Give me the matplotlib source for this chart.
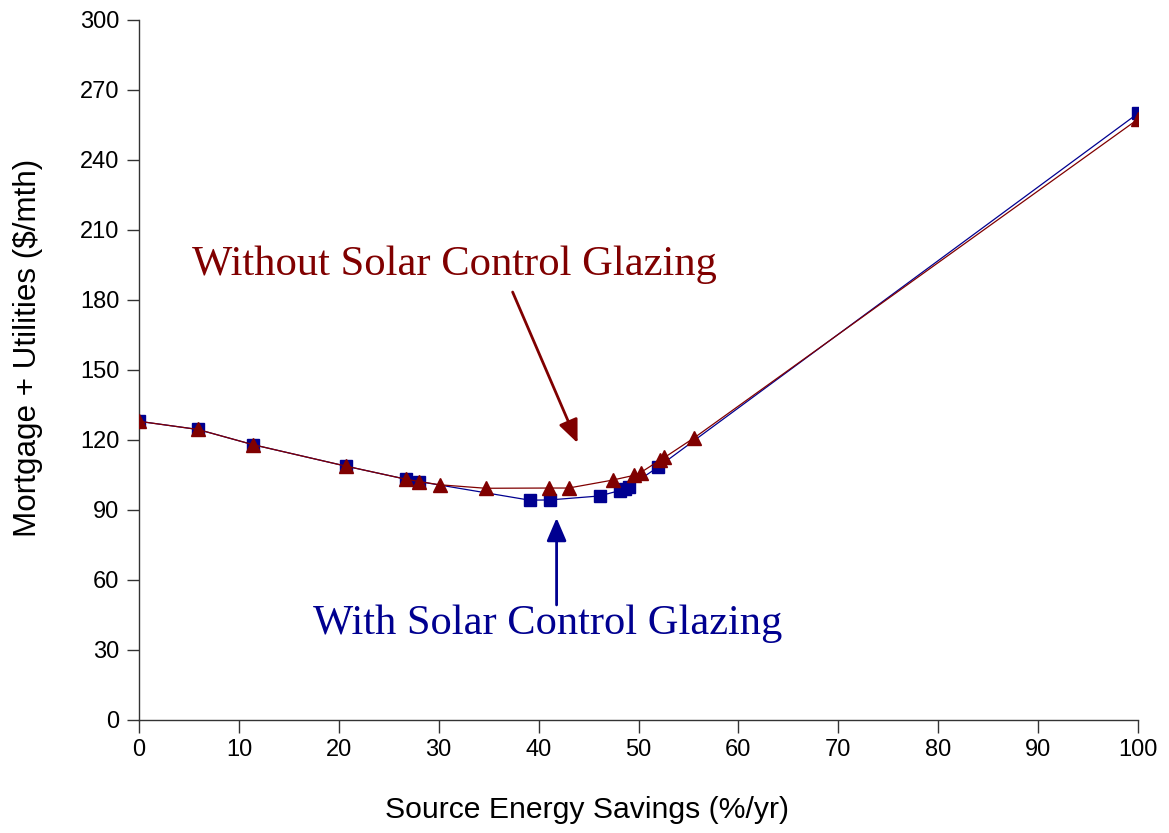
import matplotlib
matplotlib.use("Agg")
import matplotlib.pyplot as plt

# savings (%/yr) vs mortgage + utilities ($/mth)
x_with = [0, 5.9, 11.4, 20.7, 26.7, 28.0, 39.1, 41.1, 46.1, 48.1, 48.6, 49.0, 52.0, 100]
y_with = [128, 124.5, 118, 108.8, 103.2, 102.2, 94.2, 94.3, 96.0, 98.3, 99.0, 99.8, 108.5, 260]

x_without = [0, 5.9, 11.4, 20.7, 26.7, 28.0, 30.1, 34.7, 41.0, 43.0, 47.4,
             49.5, 50.2, 52.2, 52.6, 55.6, 100]
y_without = [128, 124.5, 118, 108.8, 103.2, 102.2, 100.8, 99.3, 99.4, 99.4, 102.8,
             104.8, 106.0, 111.5, 112.5, 121, 257.5]

x_ticks = list(range(0, 101, 10))
y_ticks = list(range(0, 301, 30))

BLUE = "#000090"
RED = "#800000"

plt.rcParams['font.family'] = ['Liberation Sans', 'DejaVu Sans']

fig = plt.figure(figsize=(11.69, 8.33), dpi=100)
ax = fig.add_axes([0.1189, 0.1357, 0.8546, 0.8403])

ax.plot(x_with, y_with, color=BLUE, lw=0.9, marker='s', ms=8.5,
        mfc=BLUE, mec=BLUE, zorder=3)
ax.plot(x_without, y_without, color=RED, lw=0.9, marker='^', ms=9.5,
        mfc=RED, mec=RED, zorder=4)

ax.set_xlim(0, 100)
ax.set_ylim(0, 300)
ax.set_xticks(x_ticks)
ax.set_yticks(y_ticks)
ax.tick_params(axis='both', direction='out', length=9, width=1,
               labelsize=17, color='#333333', pad=5)
for side in ['top', 'right']:
    ax.spines[side].set_visible(False)
for side in ['left', 'bottom']:
    ax.spines[side].set_color('#333333')
    ax.spines[side].set_linewidth(1)

ax.set_xlabel("Source Energy Savings (%/yr)", fontsize=21.7)
ax.xaxis.set_label_coords(0.448, -0.108)
ax.set_ylabel("Mortgage + Utilities ($/mth)", fontsize=22.6)
ax.yaxis.set_label_coords(-0.096, 0.531)

serif = ['Liberation Serif', 'DejaVu Serif']
ax.annotate("", xy=(43.9, 118.7), xytext=(37.4, 183.4),
            arrowprops=dict(arrowstyle="-|>,head_length=1.4,head_width=0.6",
                            color=RED, lw=2, shrinkA=0, shrinkB=0))
ax.text(31.6, 195, "Without Solar Control Glazing", color=RED, fontsize=30.7,
        family=serif, ha='center', va='center')

ax.annotate("", xy=(41.8, 86.6), xytext=(41.8, 49.3),
            arrowprops=dict(arrowstyle="-|>,head_length=1.4,head_width=0.6",
                            color=BLUE, lw=2, shrinkA=0, shrinkB=0))
ax.text(40.9, 41.1, "With Solar Control Glazing", color=BLUE, fontsize=30.6,
        family=serif, ha='center', va='center')

fig.savefig("out.png", dpi=100)
